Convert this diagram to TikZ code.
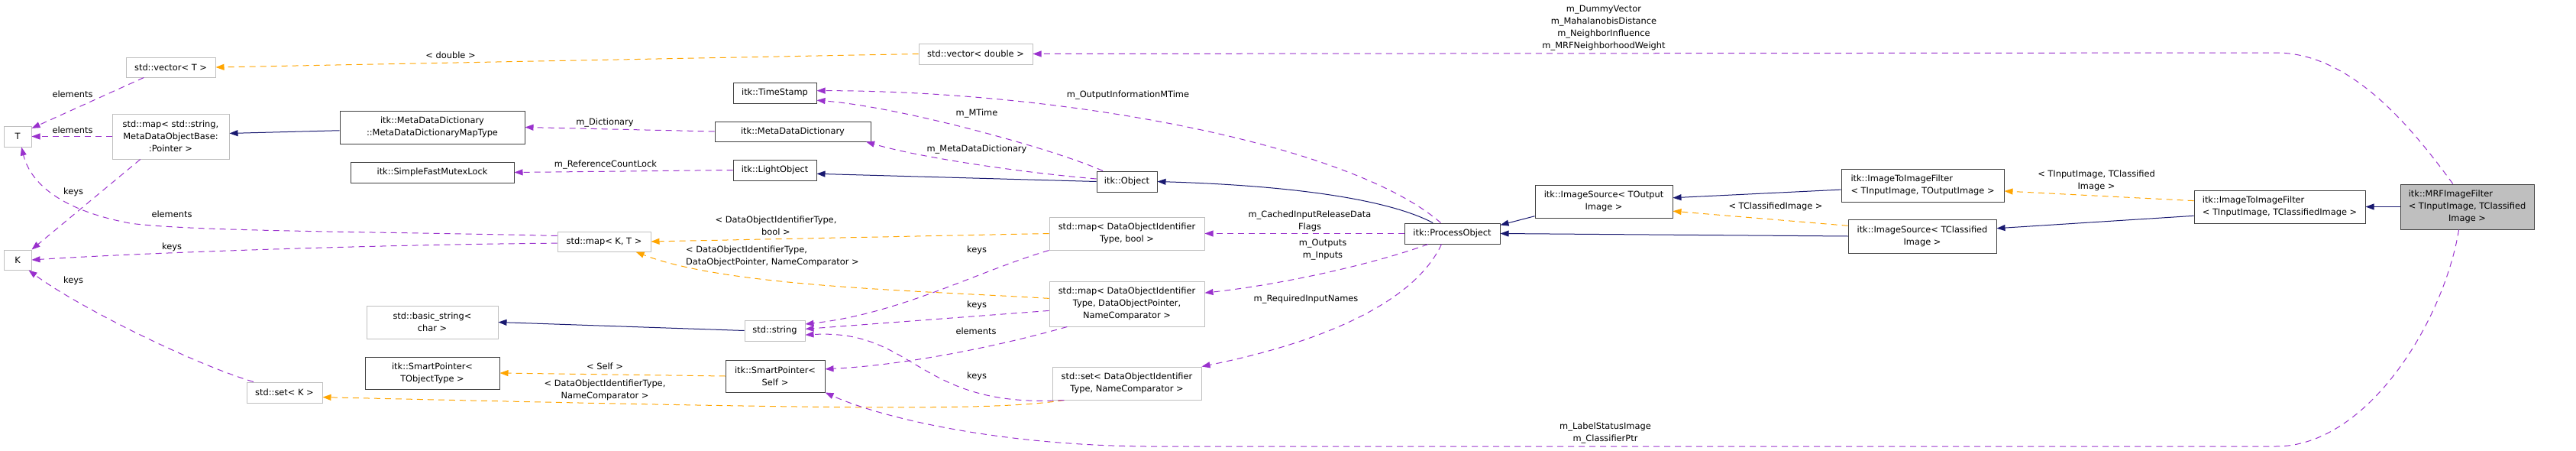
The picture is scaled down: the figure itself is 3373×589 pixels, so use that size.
\documentclass[tikz,border=0pt]{standalone}
\usepackage{fontspec}
\setmainfont{DejaVu Sans}
\usetikzlibrary{arrows.meta}
\definecolor{inhblue}{HTML}{191970}
\definecolor{usepurple}{HTML}{9A32CD}
\definecolor{tplorange}{HTML}{FFA500}
\definecolor{boxgray}{HTML}{BFBFBF}
\definecolor{boxdark}{HTML}{404040}
\begin{document}
\begin{tikzpicture}[
    x=1pt, y=-1pt,
    every node/.append style={font=\fontsize{11.4}{16}\selectfont},
    cls/.style={draw=boxdark, line width=1pt, fill=white, inner sep=0pt, align=center},
    undoc/.style={cls, draw=boxgray},
    cur/.style={cls, fill=boxgray},
    lbl/.style={inner sep=0pt, align=center},
    inh/.style={draw=inhblue, line width=1pt, -{Triangle[length=11pt,width=8pt]}},
    usage/.style={draw=usepurple, line width=1pt, dash pattern=on 8pt off 6pt, -{Triangle[length=11pt,width=8pt]}},
    tpl/.style={draw=tplorange, line width=1pt, dash pattern=on 8pt off 6pt, -{Triangle[length=11pt,width=8pt]}},
]
\useasboundingbox (0,0) rectangle (3373,589);

% classes
\node[undoc, minimum width=36, minimum height=27] (T) at (23,178.5) {T};
\node[undoc, minimum width=36, minimum height=26] (K) at (23,340) {K};
\node[undoc, minimum width=117, minimum height=26] (vecT) at (223.5,88) {std::vector< T >};
\node[undoc, minimum width=153, minimum height=59] (mapStr) at (223.5,178.5) {std::map< std::string,\\MetaDataObjectBase:\\:Pointer >};
\node[undoc, minimum width=99, minimum height=27] (setK) at (372.5,513.5) {std::set< K >};
\node[cls, minimum width=242, minimum height=43] (mapType) at (566,166.5) {itk::MetaDataDictionary\\::MetaDataDictionaryMapType};
\node[cls, minimum width=214, minimum height=27] (mutex) at (566,225.5) {itk::SimpleFastMutexLock};
\node[undoc, minimum width=172, minimum height=43] (basicStr) at (566,421.5) {std::basic\_string<\\char >};
\node[cls, minimum width=176, minimum height=42] (spTObj) at (566,488) {itk::SmartPointer<\\TObjectType >};
\node[undoc, minimum width=122, minimum height=26] (mapKT) at (791,316) {std::map< K, T >};
\node[cls, minimum width=109, minimum height=27] (timeStamp) at (1014.5,121.5) {itk::TimeStamp};
\node[cls, minimum width=204, minimum height=26] (mdd) at (1038,172) {itk::MetaDataDictionary};
\node[cls, minimum width=109, minimum height=27] (lightObj) at (1014.5,222.5) {itk::LightObject};
\node[undoc, minimum width=79, minimum height=27] (string) at (1014.5,432.5) {std::string};
\node[cls, minimum width=130, minimum height=42] (spSelf) at (1015,492) {itk::SmartPointer<\\Self >};
\node[undoc, minimum width=149, minimum height=27] (vecD) at (1277.5,70.5) {std::vector< double >};
\node[cls, minimum width=79, minimum height=27] (object) at (1475.5,237.5) {itk::Object};
\node[undoc, minimum width=203, minimum height=43] (mapBool) at (1475.5,305.5) {std::map< DataObjectIdentifier\\Type, bool >};
\node[undoc, minimum width=203, minimum height=59] (mapPtr) at (1475.5,397.5) {std::map< DataObjectIdentifier\\Type, DataObjectPointer,\\NameComparator >};
\node[undoc, minimum width=195, minimum height=43] (setId) at (1475.5,501.5) {std::set< DataObjectIdentifier\\Type, NameComparator >};
\node[cls, minimum width=125, minimum height=27] (procObj) at (1901.5,305.5) {itk::ProcessObject};
\node[cls, minimum width=180, minimum height=43] (srcOut) at (2100,263.5) {itk::ImageSource< TOutput\\Image >};
\node[cls, align=left, minimum width=213, minimum height=43] (itifOut) at (2517.5,242.5) {itk::ImageToImageFilter\\< TInputImage, TOutputImage >};
\node[cls, minimum width=194, minimum height=44] (srcCls) at (2517,309) {itk::ImageSource< TClassified\\Image >};
\node[cls, align=left, minimum width=224, minimum height=43] (itifCls) at (2985,270.5) {itk::ImageToImageFilter\\< TInputImage, TClassifiedImage >};
\node[cur, minimum width=175, minimum height=59] (mrf) at (3230.5,270.5) {\begin{tabular}{@{}l@{}}itk::MRFImageFilter\\< TInputImage, TClassified\\\multicolumn{1}{@{}c@{}}{Image >}\end{tabular}};

% edge labels
\node[lbl] (lMrfVec) at (2100,37) {m\_DummyVector\\m\_MahalanobisDistance\\m\_NeighborInfluence\\m\_MRFNeighborhoodWeight};
\node[lbl] (lMrfPtr) at (2102,567) {m\_LabelStatusImage\\m\_ClassifierPtr};
\node[lbl] (lTplCls) at (2745,236) {< TInputImage, TClassified\\Image >};
\node[lbl] (lTplSrc) at (2325,270) {< TClassifiedImage >};
\node[lbl] (lCached) at (1715,289) {m\_CachedInputReleaseData\\Flags};
\node[lbl] (lInOut) at (1732,327) {m\_Outputs\\m\_Inputs};
\node[lbl] (lReq) at (1710,392) {m\_RequiredInputNames};
\node[lbl] (lOutTime) at (1477,125) {m\_OutputInformationMTime};
\node[lbl] (lMTime) at (1279,149) {m\_MTime};
\node[lbl] (lMdd) at (1279,196) {m\_MetaDataDictionary};
\node[lbl] (lKeysBool) at (1279,327) {keys};
\node[lbl] (lKeysPtr) at (1279,399) {keys};
\node[lbl] (lElemPtr) at (1278,433) {elements};
\node[lbl] (lKeysSet) at (1279,492) {keys};
\node[lbl] (lTplBool) at (1016,295) {< DataObjectIdentifierType,\\bool >};
\node[lbl, align=left, anchor=west] (lTplPtr) at (898,335.5) {< DataObjectIdentifierType,\\DataObjectPointer, NameComparator >};
\node[lbl] (lTplSelf) at (792,479) {< Self >};
\node[lbl] (lTplSet) at (792,510) {< DataObjectIdentifierType,\\NameComparator >};
\node[lbl] (lDict) at (792,161) {m\_Dictionary};
\node[lbl] (lLock) at (793,216) {m\_ReferenceCountLock};
\node[lbl] (lTplDbl) at (590,72) {< double >};
\node[lbl] (lElemVec) at (95,123) {elements};
\node[lbl] (lElemStr) at (95,170) {elements};
\node[lbl] (lKeysStr) at (96,251) {keys};
\node[lbl] (lElemKT) at (225,280) {elements};
\node[lbl] (lKeysKT) at (225,323) {keys};
\node[lbl] (lKeysSetK) at (96,367) {keys};

% inheritance
\draw[inh] (mrf.west) -- (itifCls.east);
\draw[inh] (itifCls.186) -- (srcCls.6);
\draw[inh] (itifOut.183) -- (srcOut.3);
\draw[inh] (srcOut.192) -- (procObj.10);
\draw[inh] (srcCls.west) -- (procObj.east);
\draw[inh] (procObj.151) .. controls (1820,262) and (1700,243) .. (object.east);
\draw[inh] (object.west) -- (lightObj.-5);
\draw[inh] (mapType.182) -- (mapStr.3);
\draw[inh] (string.west) -- (basicStr.east);

% template instances
\draw[tpl] (itifCls.176) -- (itifOut.-4);
\draw[tpl] (srcCls.172) -- (srcOut.-8);
\draw[tpl] (vecD.west) -- (vecT.east);
\draw[tpl] (spSelf.west) -- (spTObj.east);
\draw[tpl] (mapBool.west) -- (mapKT.east);
\draw[tpl] (mapPtr.176) .. controls (1200,380) and (950,375) .. (mapKT.-18);
\draw[tpl] (setId.195) .. controls (1300,538) and (1100,535) .. (setK.-7);

% members
\draw[usage] (mrf.122) .. controls (3160,170) and (3080,69) .. (2980,69) -- (vecD.east);
\draw[usage] (mrf.250) .. controls (3200,420) and (3100,584) .. (2980,584) -- (1500,584) .. controls (1300,582) and (1150,545) .. (spSelf.south east);
\draw[usage] (procObj.west) -- (mapBool.east);
\draw[usage] (procObj.204) .. controls (1800,345) and (1680,372) .. (mapPtr.8);
\draw[usage] (procObj.225) .. controls (1850,400) and (1720,450) .. (setId.north east);
\draw[usage] (procObj.137) .. controls (1770,190) and (1400,119) .. (timeStamp.3);
\draw[usage] (object.156) .. controls (1380,195) and (1180,140) .. (timeStamp.-10);
\draw[usage] (object.175) .. controls (1330,225) and (1200,205) .. (mdd.-8);
\draw[usage] (mdd.west) -- (mapType.east);
\draw[usage] (lightObj.west) -- (mutex.east);
\draw[usage] (mapBool.south west) .. controls (1280,355) and (1180,410) .. (string.12);
\draw[usage] (mapPtr.185) -- (string.3);
\draw[usage] (setId.195) .. controls (1200,535) and (1200,430) .. (string.-8);
\draw[usage] (mapPtr.201) .. controls (1300,455) and (1180,478) .. (spSelf.8);
\draw[usage] (mapStr.west) -- (T.east);
\draw[usage] (vecT.201) -- (T.30);
\draw[usage] (mapStr.217) -- (K.north east);
\draw[usage] (mapKT.173) .. controls (500,303) and (250,303) .. (170,292) .. controls (80,275) and (40,240) .. (T.-70);
\draw[usage] (mapKT.182) .. controls (500,320) and (200,330) .. (K.east);
\draw[usage] (setK.161) .. controls (250,475) and (100,400) .. (K.-43);

\end{tikzpicture}
\end{document}
